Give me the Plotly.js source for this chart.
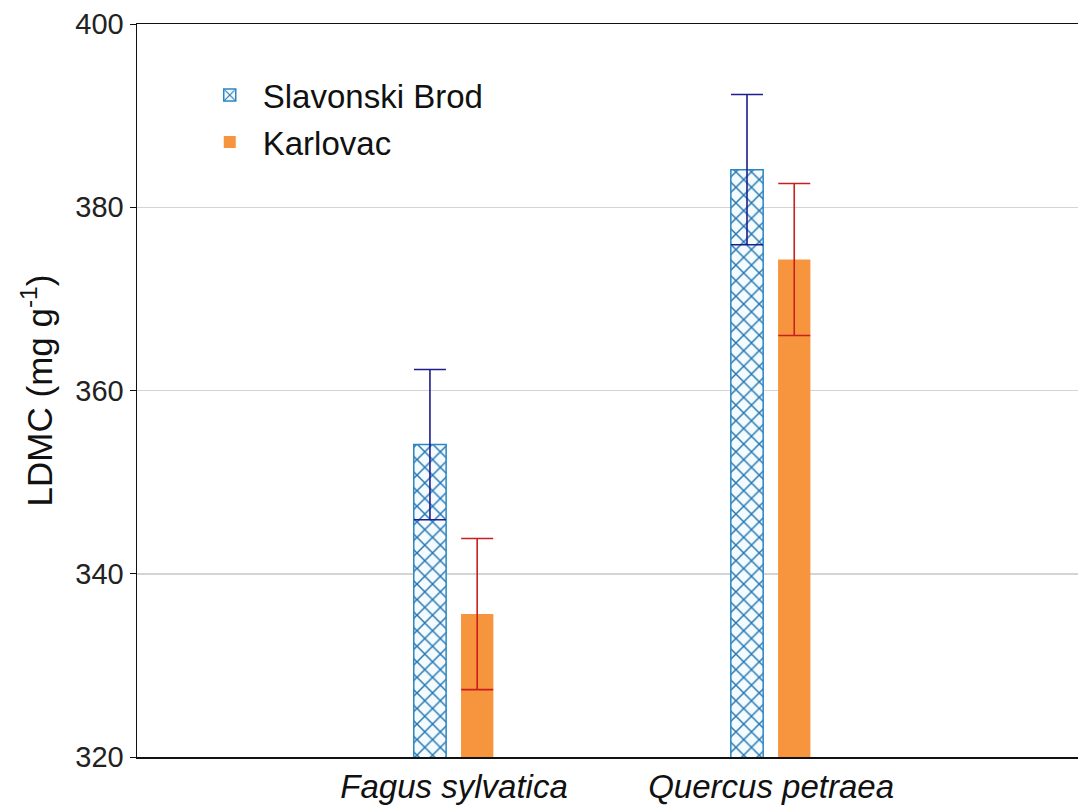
<!DOCTYPE html>
<html>
<head>
<meta charset="utf-8">
<script src="https://cdn.plot.ly/plotly-3.0.1.min.js"></script>
<style>html,body{margin:0;padding:0;background:#fff;overflow:hidden}</style>
</head>
<body>
<div id="chart" style="width:1078px;height:809px"></div>
<script>
const species = ["Fagus sylvatica", "Quercus petraea"];
const slavonskiMean = [354.1, 384.1];
const slavonskiErr = [8.2, 8.2];
const karlovacMean = [335.6, 374.3];
const karlovacErr = [8.25, 8.3];
const yTicks = [320, 340, 360, 380, 400];

const font = "Liberation Sans, Arial, sans-serif";

const traces = [
  {
    type: "bar", name: "Slavonski Brod", x: species, y: slavonskiMean,
    width: 0.102, offset: -0.127, legend: "legend",
    marker: {
      color: "white",
      line: {color: "#2b86c2", width: 1.5},
      pattern: {shape: "x", fgcolor: "#2576b0", bgcolor: "#f4fbff", size: 11, solidity: 0.25}
    },
    error_y: {type: "data", array: slavonskiErr, visible: true, color: "#1d1d8c", thickness: 1.6, width: 16}
  },
  {
    type: "bar", name: "Karlovac", x: species, y: karlovacMean,
    width: 0.102, offset: 0.022, legend: "legend2",
    marker: {color: "#f7953f", line: {color: "#f7953f", width: 0}},
    error_y: {type: "data", array: karlovacErr, visible: true, color: "#c8201e", thickness: 1.6, width: 16}
  }
];

const layout = {
  width: 1078, height: 809,
  margin: {l: 137, r: 0, t: 24, b: 52},
  paper_bgcolor: "white", plot_bgcolor: "white",
  font: {family: font, color: "#111"},
  barmode: "overlay",
  showlegend: true,
  xaxis: {
    type: "category", range: [-1, 1.968],
    showline: true, mirror: true, linecolor: "#111", linewidth: 1.5,
    showgrid: false, ticks: "", zeroline: false,
    tickfont: {size: 33, style: "italic", family: font, color: "#111"}
  },
  yaxis: {
    range: [320, 400], tickvals: yTicks,
    showline: true, linecolor: "#111", linewidth: 1.5,
    ticks: "outside", ticklen: 6, tickcolor: "#111",
    gridcolor: "#d4d4d4", gridwidth: 1.5, zeroline: false,
    tickfont: {size: 29, family: font, color: "#222"},
    title: {text: "LDMC (mg g<sup>-1</sup>)", font: {size: 35, family: font, color: "#111"}, standoff: 12}
  },
  legend: {
    x: 0.0635, y: 0.903, xanchor: "left", yanchor: "middle", itemwidth: 56,
    bgcolor: "rgba(0,0,0,0)", font: {size: 33, family: font, color: "#111"}
  },
  legend2: {
    x: 0.0635, y: 0.839, xanchor: "left", yanchor: "middle", itemwidth: 56,
    bgcolor: "rgba(0,0,0,0)", font: {size: 33, family: font, color: "#111"}
  }
};

Plotly.newPlot("chart", traces, layout, {displayModeBar: false, staticPlot: true});
</script>
</body>
</html>
